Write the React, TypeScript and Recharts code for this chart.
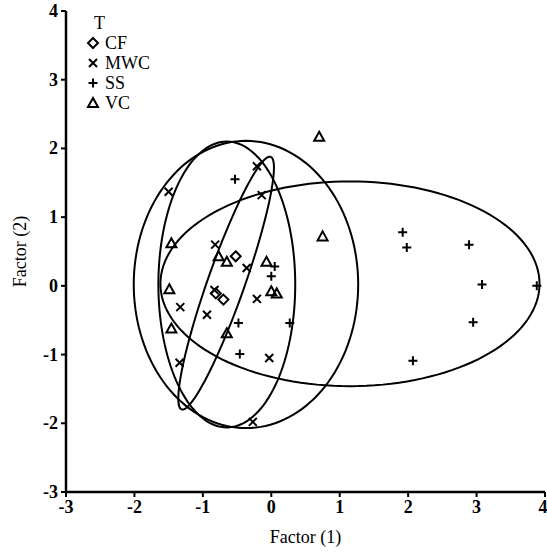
import { ScatterChart, Scatter, XAxis, YAxis, Legend } from "recharts"

const groups = ["CF", "MWC", "SS", "VC"]

const cfX = [-0.52, -0.81, -0.7]
const cfY = [0.43, -0.11, -0.2]

const mwcX = [-0.21, -0.14, -0.82, -0.36, -0.21, -1.33, -0.94, -1.34, -0.03, -0.27, -1.5, -0.83]
const mwcY = [1.74, 1.32, 0.6, 0.26, -0.19, -0.31, -0.42, -1.12, -1.05, -1.98, 1.37, -0.06]

const ssX = [-0.53, 0.05, 0.0, -0.48, 0.27, -0.46, 1.92, 1.98, 2.89, 3.08, 3.88, 2.95, 2.07]
const ssY = [1.55, 0.28, 0.14, -0.54, -0.54, -0.99, 0.78, 0.56, 0.6, 0.02, 0.0, -0.53, -1.09]

const vcX = [0.7, 0.75, -1.46, -1.49, -0.77, -0.65, -0.07, 0.0, 0.08, -1.46, -0.65]
const vcY = [2.17, 0.72, 0.62, -0.05, 0.43, 0.35, 0.35, -0.08, -0.11, -0.62, -0.69]

// ellipse params: centre, semi axes, rotation (deg)
const ellipseCenters = [[1.15, 0.03], [-0.37, 0.02], [-0.65, 0.02], [-0.66, 0.04]]
const ellipseRadii = [[2.77, 1.49], [1.64, 2.09], [1.0, 2.08], [1.95, 0.27]]
const ellipseAngles = [0, 0, 0, 70.5]

const ticks = [-3, -2, -1, 0, 1, 2, 3, 4]

const zip = (xs: number[], ys: number[]) => xs.map((x, i) => ({ x, y: ys[i] }))

const series = [zip(cfX, cfY), zip(mwcX, mwcY), zip(ssX, ssY), zip(vcX, vcY)]

function outline(i: number) {
  const [cx, cy] = ellipseCenters[i]
  const [a, b] = ellipseRadii[i]
  const t = (ellipseAngles[i] * Math.PI) / 180
  const pts = []
  for (let k = 0; k <= 144; k++) {
    const th = (2 * Math.PI * k) / 144
    const u = a * Math.cos(th)
    const v = b * Math.sin(th)
    pts.push({ x: cx + u * Math.cos(t) - v * Math.sin(t), y: cy + u * Math.sin(t) + v * Math.cos(t) })
  }
  return pts
}

const serif = "Liberation Serif, DejaVu Serif, serif"

function Mark({ kind, cx, cy }: { kind: string; cx: number; cy: number }) {
  const s = { stroke: "#000", strokeWidth: 2, fill: "none" }
  if (kind === "CF")
    return <path d={`M${cx},${cy - 5}L${cx + 5},${cy}L${cx},${cy + 5}L${cx - 5},${cy}Z`} {...s} />
  if (kind === "MWC")
    return <path d={`M${cx - 4},${cy - 4}L${cx + 4},${cy + 4}M${cx - 4},${cy + 4}L${cx + 4},${cy - 4}`} {...s} />
  if (kind === "SS")
    return <path d={`M${cx - 4.5},${cy}L${cx + 4.5},${cy}M${cx},${cy - 4.5}L${cx},${cy + 4.5}`} {...s} />
  return <path d={`M${cx},${cy - 5}L${cx + 5},${cy + 4}L${cx - 5},${cy + 4}Z`} {...s} strokeLinejoin="miter" />
}

function LegendBox() {
  return (
    <div style={{ fontFamily: serif, fontSize: 18, color: "#000", lineHeight: "20px" }}>
      <div style={{ paddingLeft: 8 }}>T</div>
      {groups.map((g) => (
        <div key={g} style={{ display: "flex", alignItems: "center" }}>
          <svg width={14} height={14} style={{ marginRight: 5 }}>
            <Mark kind={g} cx={7} cy={7} />
          </svg>
          <span>{g}</span>
        </div>
      ))}
    </div>
  )
}

const xTick = (p: any) => (
  <text key={"x" + p.index} x={p.x} y={p.y} dy={14} textAnchor="middle" fill="#000"
    style={{ fontSize: 18, fontWeight: 700, fontFamily: serif }}>
    {p.payload.value}
  </text>
)

const yTick = (p: any) => (
  <text key={"y" + p.index} x={p.x - 1} y={p.y} dy={6} textAnchor="end" fill="#000"
    style={{ fontSize: 18, fontWeight: 700, fontFamily: serif }}>
    {p.payload.value}
  </text>
)

export default function App() {
  return (
    <div style={{ position: "absolute", left: 0, top: 0, background: "#fff", fontFamily: serif }}>
      <ScatterChart width={547} height={552} margin={{ top: 11, right: 2, bottom: 0, left: 0 }}>
        <XAxis
          type="number"
          dataKey="x"
          domain={[-3, 4]}
          ticks={ticks}
          height={60}
          axisLine={{ stroke: "#000", strokeWidth: 2.5 }}
          tickLine={{ stroke: "#000", strokeWidth: 2 }}
          tickSize={5}
          tick={xTick}
          label={{ value: "Factor (1)", position: "insideBottom", offset: 9, fill: "#000", fontSize: 18, fontFamily: serif }}
        />
        <YAxis
          type="number"
          dataKey="y"
          domain={[-3, 4]}
          ticks={ticks}
          width={66}
          axisLine={{ stroke: "#000", strokeWidth: 2.5 }}
          tickLine={{ stroke: "#000", strokeWidth: 2 }}
          tickSize={5}
          tick={yTick}
          label={{
            value: "Factor (2)",
            angle: -90,
            position: "insideLeft",
            offset: 20,
            fill: "#000",
            fontSize: 18,
            fontFamily: serif,
            style: { textAnchor: "middle" },
          }}
        />
        <Legend
          layout="vertical"
          align="center"
          verticalAlign="middle"
          content={<LegendBox />}
          wrapperStyle={{ position: "absolute", left: 86, top: 13, width: "auto" }}
        />
        {ellipseCenters.map((_, i) => (
          <Scatter
            key={"e" + i}
            data={outline(i)}
            line={{ stroke: "#000", strokeWidth: 2 }}
            shape={() => <g />}
            legendType="none"
            isAnimationActive={false}
          />
        ))}
        {groups.map((g, i) => (
          <Scatter
            key={g}
            name={g}
            data={series[i]}
            shape={(p: any) => <Mark kind={g} cx={p.cx} cy={p.cy} />}
            isAnimationActive={false}
          />
        ))}
      </ScatterChart>
    </div>
  )
}
